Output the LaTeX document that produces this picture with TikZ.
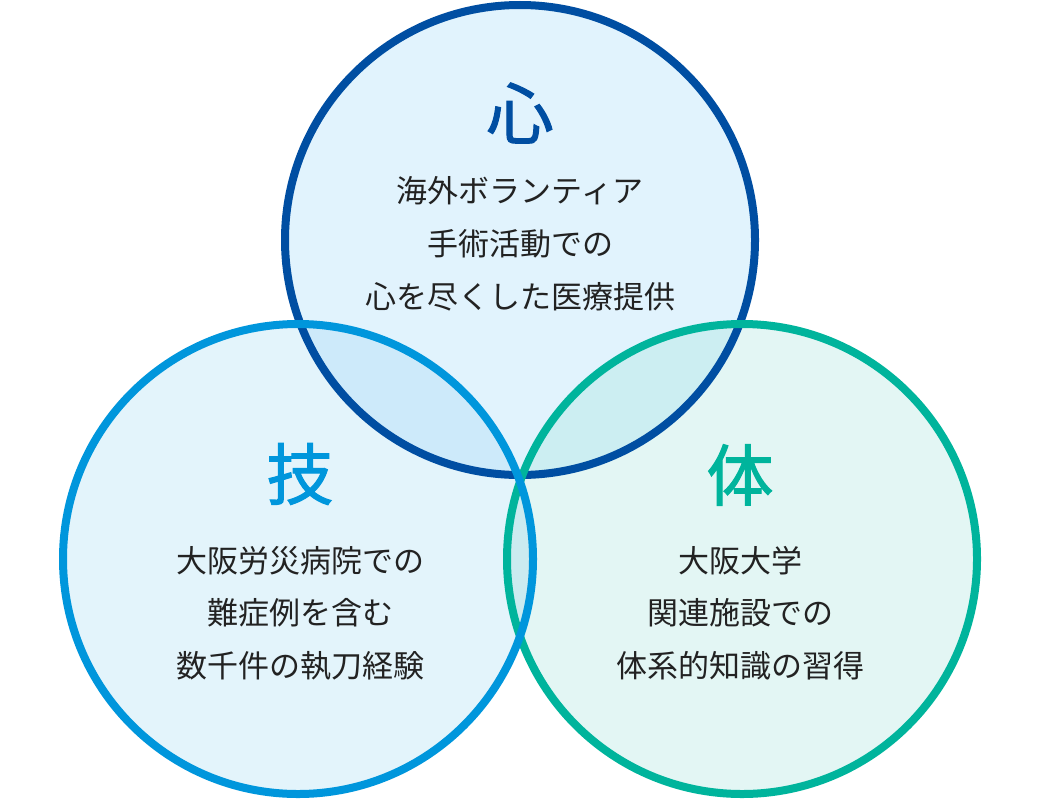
\documentclass[tikz,border=0pt]{standalone}
\usepackage{fontspec}
\newfontfamily\jp{Noto Sans CJK JP}
\newfontfamily\jpt[FakeBold=1.6]{Noto Sans CJK JP}
\definecolor{cTop}{HTML}{004EA2}
\definecolor{cLeft}{HTML}{0096DC}
\definecolor{cRight}{HTML}{00B49C}
\definecolor{fTop}{HTML}{E1F3FD}
\definecolor{fLeft}{HTML}{E3F4FB}
\definecolor{fRight}{HTML}{E3F6F4}
\definecolor{fTL}{HTML}{CDEAFA}
\definecolor{fTR}{HTML}{CCEEF2}
\definecolor{fLR}{HTML}{CBEBF0}
\definecolor{txt}{HTML}{222222}
\begin{document}
\begin{tikzpicture}[x=1pt,y=-1pt,
  ring/.style={line width=8pt},
  title/.style={font=\jpt\fontsize{67}{72}\selectfont, inner sep=0pt},
  body/.style={font=\jp\fontsize{31}{36}\selectfont, text=txt, inner sep=0pt}]
\useasboundingbox (0,0) rectangle (1040,800);
\coordinate (T) at (520,240);
\coordinate (L) at (298,559);
\coordinate (R) at (742,559);
% fills
\fill[fTop] (T) circle[radius=235pt];
\fill[fLeft] (L) circle[radius=235pt];
\fill[fRight] (R) circle[radius=235pt];
\begin{scope}
  \clip (L) circle[radius=235pt];
  \fill[fLR] (R) circle[radius=235pt];
\end{scope}
\begin{scope}
  \clip (T) circle[radius=235pt];
  \fill[fTL] (L) circle[radius=235pt];
  \fill[fTR] (R) circle[radius=235pt];
\end{scope}
% strokes
\draw[ring, cTop] (T) circle[radius=235pt];
\draw[ring, cRight] (R) circle[radius=235pt];
\draw[ring, cLeft] (L) circle[radius=235pt];
% titles
\node[title, text=cTop] (tKokoro) at (520,113) {心};
\node[title, text=cLeft] (tWaza) at (300,474) {技};
\node[title, text=cRight] (tTai) at (740,475) {体};
% top texts
\node[body] (t1) at (520,191) {海外ボランティア};
\node[body] (t2) at (520,244) {手術活動での};
\node[body] (t3) at (520,297) {心を尽くした医療提供};
% left texts
\node[body] (l1) at (300,561) {大阪労災病院での};
\node[body] (l2) at (300,613) {難症例を含む};
\node[body] (l3) at (300,666) {数千件の執刀経験};
% right texts
\node[body] (r1) at (740,561) {大阪大学};
\node[body] (r2) at (740,613) {関連施設での};
\node[body] (r3) at (740,666) {体系的知識の習得};
\end{tikzpicture}
\end{document}
